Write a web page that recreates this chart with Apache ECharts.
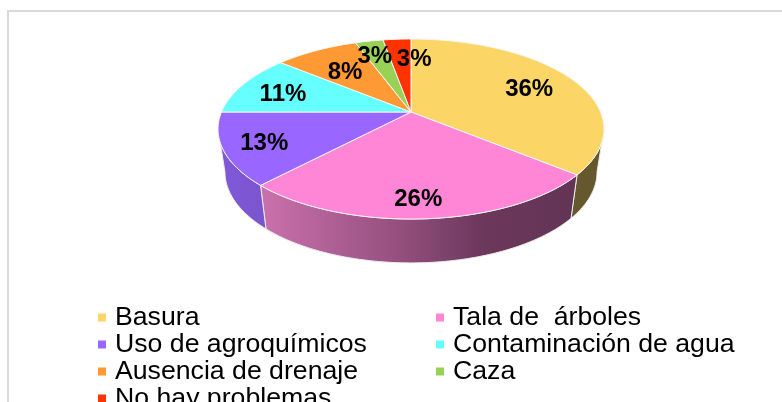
<!DOCTYPE html>
<html>
<head>
<meta charset="utf-8">
<style>
  html, body { margin: 0; padding: 0; background: #fff; overflow: hidden; }
  #chart { width: 782px; height: 402px; }
</style>
</head>
<body>
<div id="chart"></div>
<script src="https://cdn.jsdelivr.net/npm/echarts@6/dist/echarts.min.js"></script>
<script>
const categories = ["Basura", "Tala de  árboles", "Uso de agroquímicos", "Contaminación de agua", "Ausencia de drenaje", "Caza", "No hay problemas"];
const shares = [36, 26, 13, 11, 8.4, 2.8, 2.8];
const colors = ["#fbd666", "#ff85d6", "#9966ff", "#66ffff", "#ff9933", "#99d155", "#ff3300"];

// projection of the tilted disc, the front is nearer so it comes out bigger
const apex = { x: 411, y: 112 };
const scaleX = 189.5;
const scaleY = 86.8;
const tilt = 0.189;
// lower rim of the wall
const depth = 42.8;
const bottomScaleX = 0.964;
const bottomScaleY = 1.01;
// angle of the widest point of the disc, the wall stops there
const wallEdge = Math.acos(-tilt) * 180 / Math.PI;

// small shifts so the labels sit where the original has them
const labelShift = [[-4, 4], [-4, 5], [-2, 2.5], [1, 4], [7, 8], [-4, -1], [14, 3]];

const total = shares.reduce((a, b) => a + b, 0);
const starts = [];
shares.reduce((sum, v, i) => { starts[i] = sum; return sum + v; }, 0);

function toDeg(share) {
  return share / total * 360;
}

function rim(deg, kx, ky, dy) {
  const t = deg * Math.PI / 180;
  const u = Math.sin(t);
  const v = -Math.cos(t);
  const d = 1 - tilt * v;
  return [apex.x + kx * scaleX * u / d, apex.y + dy + ky * scaleY * v / d];
}

function arc(from, to, kx, ky, dy) {
  const pts = [];
  const n = Math.max(2, Math.ceil(Math.abs(to - from)));
  for (let i = 0; i <= n; i++) {
    pts.push(rim(from + (to - from) * i / n, kx, ky, dy));
  }
  return pts;
}

function wallFill(i) {
  if (i === 0) return "#66582e";
  if (i === 1) {
    return new echarts.graphic.LinearGradient(0, 0, 1, 0, [
      { offset: 0, color: "#cb71ad" },
      { offset: 0.43, color: "#95507f" },
      { offset: 0.7, color: "#6c385c" },
      { offset: 1, color: "#623455" },
    ]);
  }
  return new echarts.graphic.LinearGradient(0, 0, 1, 0, [
    { offset: 0, color: "#8059da" },
    { offset: 1, color: "#7a55cc" },
  ]);
}

function renderSlice(i) {
  const a = toDeg(starts[i]);
  const b = toDeg(starts[i] + shares[i]);
  const children = [];

  // only the front of the disc shows a side wall
  const from = Math.max(a, wallEdge);
  const to = Math.min(b, 360 - wallEdge);
  if (from < to) {
    const wall = arc(from, to, 1, 1, 0).concat(arc(from, to, bottomScaleX, bottomScaleY, depth).reverse());
    children.push({
      type: "polygon",
      z2: 1,
      shape: { points: wall },
      style: { fill: wallFill(i), stroke: "#ececec", lineWidth: 1 },
    });
  }

  children.push({
    type: "polygon",
    z2: 2,
    shape: { points: [[apex.x, apex.y]].concat(arc(a, b, 1, 1, 0)) },
    style: { fill: colors[i], stroke: "#f7f7f7", lineWidth: 1 },
  });

  const mid = rim((a + b) / 2, 0.77, 0.77, 0);
  children.push({
    type: "text",
    z2: 3,
    style: {
      x: mid[0] + labelShift[i][0],
      y: mid[1] + labelShift[i][1],
      text: Math.round(shares[i] / total * 100) + "%",
      fill: "#000",
      align: "center",
      verticalAlign: "middle",
      font: 'bold 24px "Liberation Sans"',
    },
  });

  return { type: "group", children: children };
}

const series = categories.map(function (name, i) {
  return {
    type: "custom",
    name: name,
    coordinateSystem: "none",
    silent: true,
    itemStyle: { color: colors[i] },
    data: [[shares[i]]],
    renderItem: function () {
      return renderSlice(i);
    },
  };
});

function legendColumn(names, left) {
  return {
    orient: "vertical",
    left: left,
    top: 304,
    height: 200,
    padding: 0,
    itemGap: 0,
    itemWidth: 8,
    itemHeight: 8,
    icon: "rect",
    selectedMode: false,
    data: names,
    textStyle: {
      color: "#000",
      fontFamily: "Liberation Sans",
      fontSize: 26.67,
      lineHeight: 26.3,
      padding: [0, 0, 0, 4],
    },
  };
}

const chart = echarts.init(document.getElementById("chart"));
chart.setOption({
  animation: false,
  backgroundColor: "#fff",
  legend: [
    legendColumn(categories.filter((c, i) => i % 2 === 0), 98),
    legendColumn(categories.filter((c, i) => i % 2 === 1), 436),
  ],
  graphic: [
    {
      type: "polyline",
      silent: true,
      shape: { points: [[8, 402], [8, 11], [782, 11]] },
      style: { fill: null, stroke: "#d9d9d9", lineWidth: 2 },
    },
  ],
  series: series,
});
</script>
</body>
</html>
